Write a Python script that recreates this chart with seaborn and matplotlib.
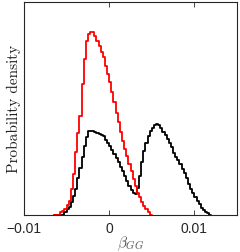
import numpy as np
import pandas as pd
import matplotlib
matplotlib.use("Agg")
import matplotlib.pyplot as plt
import seaborn as sns

# histogram bins (beta_GG)
bin_start = -0.0065
bin_width = 0.00025

# heights of the black histogram (arbitrary density units)
black_density = [0, 0, 0, 0, 0, 2, 5, 7, 12, 18, 25, 36, 46, 57, 68, 77,
                 83, 83, 83, 82, 81, 80, 79, 78, 74, 71, 68, 64, 60, 56, 52, 47,
                 43, 38, 33, 28, 24, 21, 20, 26, 38, 52, 63, 71, 78, 83, 86, 89,
                 90, 89, 86, 82, 79, 75, 71, 67, 61, 57, 54, 50, 45, 41, 36, 30,
                 25, 21, 17, 13, 10, 6, 4, 2, 1, 0]

# heights of the red histogram (same bins, it ends earlier)
red_density = [0, 0, 0, 2, 3, 5, 9, 13, 25, 40, 62, 81, 98, 130, 155, 173,
               180, 182, 182, 178, 173, 168, 162, 157, 148, 140, 132, 122, 112, 101, 92, 82,
               73, 65, 58, 50, 43, 35, 28, 21, 17, 12, 8, 5, 2, 0]

xticks = [-0.01, 0, 0.01]
xtick_labels = ["\u22120.01", "0", "0.01"]

sns.set_style("ticks")
plt.rcParams["mathtext.fontset"] = "cm"
plt.rcParams["font.family"] = ["Liberation Sans", "DejaVu Sans"]

fig = plt.figure(figsize=(2.40, 2.53), dpi=100)
ax = fig.add_axes([24 / 240, (253 - 215.5) / 253, (237 - 24) / 240, (215.5 - 3) / 253])

for heights, col in [(black_density, "black"), (red_density, "red")]:
    edges = bin_start + bin_width * np.arange(len(heights) + 1)
    df = pd.DataFrame({"beta": edges[:-1] + bin_width / 2, "density": heights})
    sns.histplot(data=df, x="beta", weights="density", binwidth=bin_width,
                 binrange=(edges[0], edges[-1]), element="step",
                 fill=False, color=col, linewidth=1.3, ax=ax)

ax.set_xlim(-0.01, 0.015)
ax.set_ylim(0, 212)
ax.set_yticks([])
ax.set_xticks(xticks)
ax.set_xticklabels(xtick_labels, fontsize=10)
ax.tick_params(axis="x", direction="in", top=True, length=3.5, width=0.6, pad=4.5)
for s in ax.spines.values():
    s.set_visible(True)
    s.set_linewidth(0.8)

ax.set_ylabel("Probability density", family="cmr10", fontsize=11, color="#222222", labelpad=2)
ax.set_xlabel(r"$\beta_{GG}$", fontsize=11, color="#555555", labelpad=-1)

fig.savefig("out.png", dpi=100)
